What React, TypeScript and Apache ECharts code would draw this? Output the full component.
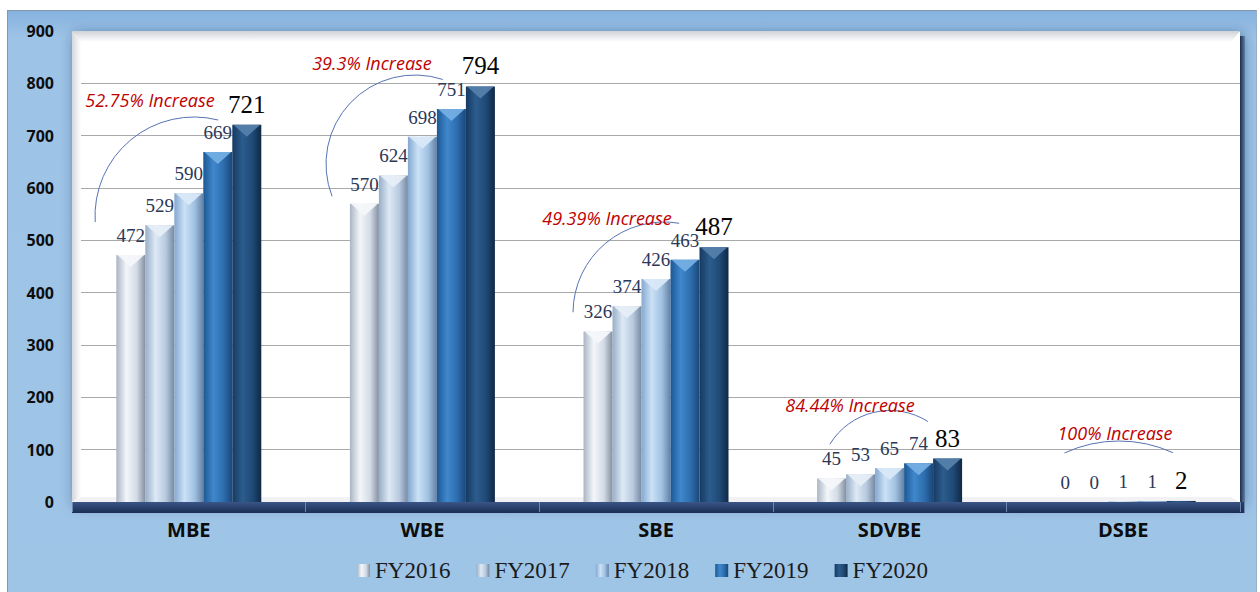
import React, { useEffect, useRef } from 'react';
import * as echarts from 'echarts';

const categories = ['MBE', 'WBE', 'SBE', 'SDVBE', 'DSBE'];
const seriesNames = ['FY2016', 'FY2017', 'FY2018', 'FY2019', 'FY2020'];
const fy2016 = [472, 570, 326, 45, 0];
const fy2017 = [529, 624, 374, 53, 0];
const fy2018 = [590, 698, 426, 65, 1];
const fy2019 = [669, 751, 463, 74, 1];
const fy2020 = [721, 794, 487, 83, 2];
const increaseLabels = ['52.75% Increase', '39.3% Increase', '49.39% Increase', '84.44% Increase', '100% Increase'];
const yMin = 0;
const yMax = 900;
const yStep = 100;

const seriesValues = [fy2016, fy2017, fy2018, fy2019, fy2020];

// styles
const barStops = [
  ['#aab5c3', '#f3f6fa', '#d3dbe6', '#848fa0'],
  ['#98aec7', '#dde9f5', '#b8cadf', '#7689a1'],
  ['#84a8cf', '#cbe1f6', '#a0c1e2', '#6581a3'],
  ['#1c5794', '#3f88cc', '#2d6dae', '#1a4778'],
  ['#163a61', '#2c5c8d', '#1f4976', '#102844'],
];
const bevelColors = ['#f4f7fa', '#e6eef7', '#d8e8f8', '#74aee3', '#5580ab'];
const annTextPos = [[150, 100], [372, 63], [607, 218], [850, 405], [1115, 433]];
const annArcs = [
  { cx: 194, cy: 216, r: 99, s: 3.08, e: 4.96 },
  { cx: 415, cy: 164, r: 89, s: 2.77, e: 5.03 },
  { cx: 664, cy: 313, r: 91, s: 3.15, e: 4.88 },
  { cx: 890, cy: 481, r: 70.5, s: 3.69, e: 5.28 },
  { cx: 1119, cy: 571, r: 130, s: 4.28, e: 5.14 },
];

function hGrad(stops: string[]) {
  return new echarts.graphic.LinearGradient(0, 0, 1, 0, [
    { offset: 0, color: stops[0] },
    { offset: 0.35, color: stops[1] },
    { offset: 0.7, color: stops[2] },
    { offset: 1, color: stops[3] },
  ]);
}

export default function App() {
  const ref = useRef<HTMLDivElement>(null);
  useEffect(() => {
    if (!ref.current) return;
    const chart = echarts.init(ref.current, undefined, { renderer: 'svg' });
    const barWidth = 29;
    const series: any[] = [];
    seriesValues.forEach((vals, i) => {
      const last = i === seriesValues.length - 1;
      series.push({
        type: 'bar',
        name: seriesNames[i],
        data: vals,
        barWidth,
        barGap: '0%',
        itemStyle: { color: hGrad(barStops[i]) },
        label: {
          show: true,
          position: 'top',
          distance: last ? 8 : 10,
          fontFamily: "'Liberation Serif', 'DejaVu Serif', serif",
          fontSize: last ? 25 : 19,
          color: last ? '#050505' : '#2b3858',
        },
        z: 2,
      });
    });
    seriesValues.forEach((vals, i) => {
      series.push({
        type: 'pictorialBar',
        name: seriesNames[i] + ' bevel',
        data: vals.map((v) => (v >= 10 ? v : '-')),
        symbol: 'triangle',
        symbolRotate: 180,
        symbolSize: [barWidth - 2, 12],
        symbolPosition: 'end',
        symbolOffset: [(i - 2) * barWidth, 0],
        itemStyle: { color: bevelColors[i], opacity: 0.95 },
        silent: true,
        legendHoverLink: false,
        z: 3,
      });
    });

    const graphics: any[] = [
      {
        type: 'polygon',
        z: 1,
        silent: true,
        shape: { points: [[72, 31], [1240, 31], [1231, 42], [81, 42]] },
        style: {
          fill: new echarts.graphic.LinearGradient(0, 0, 0, 1, [
            { offset: 0, color: '#cfd2d6' },
            { offset: 1, color: '#ffffff' },
          ]),
        },
      },
      {
        type: 'polygon',
        z: 1,
        silent: true,
        shape: { points: [[72, 31], [81, 42], [81, 496], [72, 502]] },
        style: {
          fill: new echarts.graphic.LinearGradient(0, 0, 1, 0, [
            { offset: 0, color: '#d4d7db' },
            { offset: 1, color: '#ffffff' },
          ]),
        },
      },
      {
        type: 'polygon',
        z: 1,
        silent: true,
        shape: { points: [[72, 502], [81, 497], [1231, 497], [1240, 502]] },
        style: { fill: '#f2f2f4' },
      },
      {
        type: 'rect',
        z: 1,
        silent: true,
        shape: { x: 72, y: 502, width: 1172, height: 11 },
        style: {
          fill: new echarts.graphic.LinearGradient(0, 0, 0, 1, [
            { offset: 0, color: '#3a5587' },
            { offset: 1, color: '#1a2d52' },
          ]),
        },
      },
      {
        type: 'rect',
        z: 1,
        silent: true,
        shape: { x: 1240, y: 36, width: 5, height: 477 },
        style: {
          fill: new echarts.graphic.LinearGradient(0, 0, 1, 0, [
            { offset: 0, color: '#1e2f50' },
            { offset: 1, color: 'rgba(30,47,80,0.3)' },
          ]),
        },
      },
    ];
    annArcs.forEach((a) => {
      graphics.push({
        type: 'arc',
        z: 4,
        silent: true,
        shape: { cx: a.cx, cy: a.cy, r: a.r, startAngle: a.s, endAngle: a.e, clockwise: true },
        style: { stroke: '#5673b5', lineWidth: 1, fill: 'none' },
      });
    });
    increaseLabels.forEach((t, i) => {
      graphics.push({
        type: 'text',
        z: 4,
        silent: true,
        x: annTextPos[i][0],
        y: annTextPos[i][1],
        style: {
          text: t,
          fill: '#c00000',
          font: "italic 18px 'Open Sans', sans-serif",
          textAlign: 'center',
          textVerticalAlign: 'middle',
        },
      });
    });

    chart.setOption({
      animation: false,
      backgroundColor: 'transparent',
      grid: {
        left: 72,
        right: 20,
        top: 31,
        bottom: 90,
        show: true,
        backgroundColor: '#ffffff',
        borderWidth: 0,
        shadowBlur: 14,
        shadowColor: 'rgba(25,45,85,0.55)',
        shadowOffsetX: 3,
        shadowOffsetY: 3,
      },
      legend: {
        data: seriesNames,
        top: 554,
        left: 352,
        icon: 'rect',
        itemWidth: 13,
        itemHeight: 13,
        itemGap: 26,
        selectedMode: false,
        textStyle: {
          fontFamily: "'Liberation Serif', 'DejaVu Serif', serif",
          fontSize: 23,
          color: '#1b1b1b',
        },
      },
      xAxis: {
        type: 'category',
        data: categories,
        z: 5,
        axisLine: { show: false },
        axisTick: { show: true, length: 10, lineStyle: { color: '#6d86ad' } },
        axisLabel: {
          margin: 17,
          fontFamily: "'Open Sans', sans-serif",
          fontWeight: 'bold',
          fontSize: 20,
          color: '#0d0d0d',
        },
        splitLine: { show: false },
      },
      yAxis: {
        type: 'value',
        min: yMin,
        max: yMax,
        interval: yStep,
        axisLine: { show: false },
        axisTick: { show: false },
        axisLabel: {
          margin: 18,
          fontFamily: "'Open Sans', sans-serif",
          fontWeight: 'bold',
          fontSize: 16,
          color: '#0d0d0d',
        },
        splitLine: { lineStyle: { color: '#a9a9a9', width: 1 } },
      },
      graphic: { elements: graphics },
      series,
    });
    return () => chart.dispose();
  }, []);

  return (
    <div style={{ position: 'fixed', left: 0, top: 0, width: 1260, height: 592, background: '#ffffff', overflow: 'hidden' }}>
      <div
        style={{
          position: 'absolute',
          left: 7,
          top: 10,
          width: 1248,
          height: 582,
          background: 'linear-gradient(#86b2e0, #9dc3e6 26px, #9ec4e6)',
          borderTop: '1px solid #8397ad',
          borderLeft: '1px solid #8397ad',
          borderRight: '1px solid #9aaec4',
        }}
      />
      <div ref={ref} style={{ position: 'absolute', left: 0, top: 0, width: 1260, height: 592 }} />
    </div>
  );
}
